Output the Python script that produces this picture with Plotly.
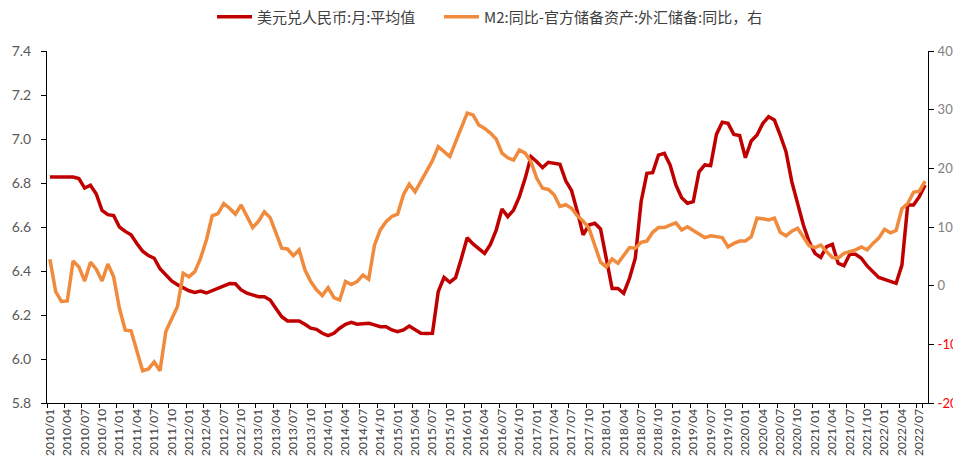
import plotly.graph_objects as go

# Monthly categories 2010/01 .. 2022/08
months = [f"{y}/{m:02d}" for y in range(2010, 2023) for m in range(1, 13)][:152]
tick_labels = months[::3]

usd_cny = [
    6.827, 6.827, 6.827, 6.827, 6.827, 6.820, 6.777, 6.790, 6.750, 6.675, 6.656, 6.652,  # 2010
    6.600, 6.580, 6.565, 6.525, 6.490, 6.470, 6.458, 6.410, 6.385, 6.355, 6.338, 6.325,  # 2011
    6.310, 6.303, 6.309, 6.300, 6.310, 6.320, 6.333, 6.343, 6.342, 6.314, 6.299, 6.290,  # 2012
    6.283, 6.283, 6.268, 6.230, 6.192, 6.173, 6.173, 6.173, 6.158, 6.140, 6.135, 6.117,  # 2013
    6.106, 6.117, 6.140, 6.158, 6.167, 6.158, 6.160, 6.162, 6.155, 6.147, 6.147, 6.132,  # 2014
    6.124, 6.132, 6.150, 6.132, 6.117, 6.116, 6.117, 6.306, 6.371, 6.349, 6.370, 6.458,  # 2015
    6.551, 6.523, 6.500, 6.480, 6.521, 6.586, 6.682, 6.647, 6.677, 6.738, 6.821, 6.920,  # 2016
    6.897, 6.870, 6.894, 6.890, 6.885, 6.810, 6.766, 6.670, 6.564, 6.609, 6.617, 6.591,  # 2017
    6.458, 6.321, 6.321, 6.299, 6.367, 6.458, 6.715, 6.844, 6.847, 6.927, 6.935, 6.882,  # 2018
    6.791, 6.733, 6.708, 6.715, 6.851, 6.882, 6.879, 7.021, 7.076, 7.071, 7.021, 7.016,  # 2019
    6.915, 6.991, 7.018, 7.071, 7.101, 7.086, 7.018, 6.942, 6.806, 6.708, 6.609, 6.533,  # 2020
    6.480, 6.462, 6.511, 6.521, 6.435, 6.424, 6.476, 6.476, 6.458, 6.423, 6.397, 6.371,  # 2021
    6.362, 6.351, 6.344, 6.427, 6.700, 6.700, 6.738, 6.791,                              # 2022
]

m2_minus_fx = [
    4.5, -1.0, -2.7, -2.6, 4.2, 3.2, 0.8, 4.0, 2.8, 0.8, 3.7, 1.5,               # 2010
    -3.9, -7.6, -7.7, -11.0, -14.5, -14.2, -13.0, -14.5, -7.8, -5.7, -3.6, 2.1,  # 2011
    1.5, 2.4, 4.7, 7.8, 11.9, 12.3, 14.0, 13.2, 12.2, 13.75, 11.8, 9.9,          # 2012
    11.0, 12.6, 11.6, 8.8, 6.4, 6.25, 5.1, 6.1, 2.7, 0.7, -0.7, -1.7,            # 2013
    -0.35, -2.05, -2.45, 0.7, 0.2, 0.7, 1.8, 1.1, 6.9, 9.5, 10.9, 11.8,          # 2014
    12.2, 15.5, 17.3, 16.0, 17.8, 19.4, 21.3, 23.7, 22.8, 22.0, 24.5, 27.1,      # 2015
    29.4, 29.1, 27.4, 26.8, 26.0, 25.0, 22.6, 21.8, 21.4, 23.1, 22.6, 21.1,      # 2016
    18.3, 16.6, 16.4, 15.5, 13.5, 13.8, 13.2, 11.9, 11.0, 9.8, 6.9, 4.0,         # 2017
    3.2, 4.55, 3.8, 5.2, 6.5, 6.4, 7.4, 7.6, 9.1, 9.9, 9.9, 10.3,                # 2018
    10.7, 9.5, 10.05, 9.4, 8.8, 8.2, 8.5, 8.3, 8.2, 6.6, 7.2, 7.6,               # 2019
    7.6, 8.35, 11.5, 11.4, 11.2, 11.5, 9.1, 8.5, 9.3, 9.8, 8.2, 6.8,             # 2020
    6.5, 6.9, 5.8, 4.8, 4.7, 5.5, 5.8, 6.1, 6.6, 6.1, 7.2, 8.1,                  # 2021
    9.6, 9.0, 9.4, 13.1, 14.0, 15.9, 16.1, 17.8,                                 # 2022
]

left_ticks = [5.8, 6.0, 6.2, 6.4, 6.6, 6.8, 7.0, 7.2, 7.4]
right_ticks = [-20, -10, 0, 10, 20, 30, 40]

FONT = "Lato, 'Noto Sans', 'Noto Sans CJK SC', sans-serif"
CJK_FONT = "'Noto Sans CJK SC', 'Noto Sans', sans-serif"

right_text = [
    f'<span style="color:#FF0000">{v}</span>' if v < 0 else str(v) for v in right_ticks
]

# The page body has an 8px default margin, so the figure is 8px smaller
# than the window and the margins are measured from that offset.
W, H = 953, 453
ML, MR, MT, MB = 39, 33, 43, 58
PLOT_W = W - ML - MR


def legend_box(page_x):
    return dict(
        orientation="h", xanchor="left", x=(page_x - 8 - ML - 5) / PLOT_W,
        yref="container", y=1 - 9 / H, yanchor="middle",
        font=dict(family=CJK_FONT, size=15, color="#404040"),
        bgcolor="rgba(0,0,0,0)", itemwidth=35,
    )


fig = go.Figure()
fig.add_trace(go.Scatter(
    x=months, y=usd_cny, name="美元兑人民币:月:平均值", mode="lines",
    line=dict(color="#C00000", width=3.5), legend="legend",
))
fig.add_trace(go.Scatter(
    x=months, y=m2_minus_fx, name="M2:同比-官方储备资产:外汇储备:同比，右", mode="lines",
    yaxis="y2", line=dict(color="#F08A3C", width=3.5), legend="legend2",
))

fig.update_layout(
    width=W, height=H,
    margin=dict(l=ML, r=MR, t=MT, b=MB, autoexpand=False),
    paper_bgcolor="white", plot_bgcolor="white",
    font=dict(family=FONT, color="#404040"),
    showlegend=True,
    legend=legend_box(217),
    legend2=legend_box(444),
    xaxis=dict(
        type="category", range=[-0.5, len(months) - 0.5],
        tickmode="array", tickvals=tick_labels, ticktext=tick_labels,
        tickson="boundaries", tickangle=-90,
        ticks="outside", ticklen=4, tickcolor="#000000",
        showline=True, linecolor="#000000", linewidth=1,
        showgrid=False, zeroline=False, automargin=False,
        tickfont=dict(size=12, color="#404040"),
    ),
    yaxis=dict(
        range=[5.8, 7.4], tickmode="array", tickvals=left_ticks,
        ticktext=[f"{v:.1f}" for v in left_ticks],
        ticks="outside", ticklen=5, tickcolor="#000000",
        showline=True, linecolor="#000000", linewidth=1,
        showgrid=False, zeroline=False, automargin=False,
        tickfont=dict(size=14, color="#595959"),
        ticklabelstandoff=7,
    ),
    yaxis2=dict(
        range=[-20, 40], overlaying="y", side="right",
        tickmode="array", tickvals=right_ticks, ticktext=right_text,
        ticks="outside", ticklen=5, tickcolor="#000000",
        showline=True, linecolor="#000000", linewidth=1,
        showgrid=False, zeroline=False, automargin=False,
        tickfont=dict(size=13, color="#808080"),
        ticklabelstandoff=1,
    ),
)

fig.write_html("out.html")
